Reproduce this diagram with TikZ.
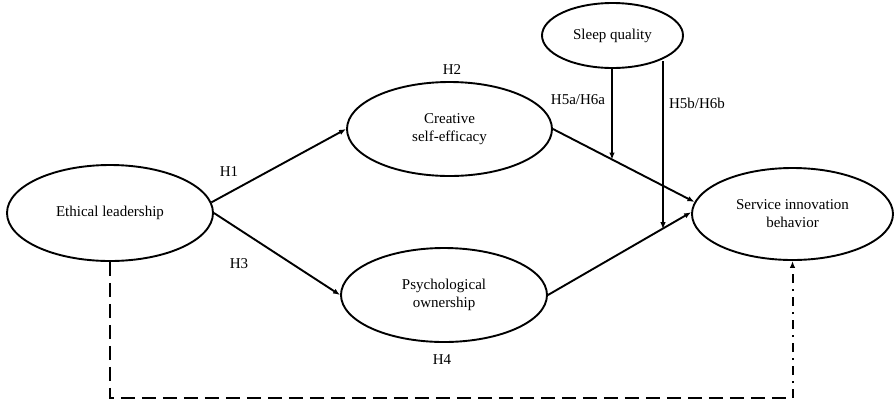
\documentclass[tikz,border=0pt]{standalone}
\usepackage{fontspec}
\setmainfont{Liberation Serif}
\usetikzlibrary{shapes.geometric,arrows.meta,calc}
\begin{document}
\begin{tikzpicture}[x=1pt,y=-1pt,
  latent/.style={draw,ellipse,line width=1.9pt,inner sep=0pt,align=center,font=\fontsize{15}{18}\selectfont},
  arr/.style={line width=1.9pt,-{Latex[length=7pt,width=5.5pt]}},
  lbl/.style={font=\fontsize{15}{18}\selectfont,inner sep=0pt},
  dashline/.style={line width=2.2pt,dash pattern=on 14pt off 7pt},
  dashdot/.style={line width=2pt,dash pattern=on 9pt off 6pt on 2pt off 6pt,-{Latex[length=7pt,width=5.5pt]}}]
\useasboundingbox (0,0) rectangle (894,400);
\node[latent,minimum width=206pt,minimum height=96pt] (el) at (110,213) {Ethical leadership};
\node[latent,minimum width=205pt,minimum height=94pt] (cse) at (449.5,129) {Creative\\self-efficacy};
\node[latent,minimum width=206pt,minimum height=94pt] (po) at (444,295) {Psychological\\ownership};
\node[latent,minimum width=201pt,minimum height=92pt] (sib) at (792.5,214) {Service innovation\\behavior};
\node[latent,minimum width=141pt,minimum height=65pt] (sq) at (612.5,35.5) {Sleep quality};

\draw[arr] (el.6) -- (cse.west);
\draw[arr] (el.east) -- (po.west);
\draw[arr] (cse.east) -- (sib.173);
\draw[arr] (po.east) -- (sib.179);

\coordinate (m1) at ($(cse.east)!0.42!(sib.173)$);
\coordinate (m2) at ($(po.east)!0.795!(sib.179)$);
\coordinate (s1) at (612,67);
\draw[arr] (s1) -- (s1 |- m1);
\coordinate (s2) at (663,61);
\draw[arr] (s2) -- (s2 |- m2);

\coordinate (c1) at (el.south |- 0,398);
\coordinate (c2) at (sib.south |- 0,398);
\draw[dashline] (el.south) -- (c1) -- (c2);
\draw[dashdot] (c2) -- (sib.south);

\node[lbl] (h1) at (229,172) {H1};
\node[lbl] (h2) at (452,70) {H2};
\node[lbl] (h3) at (239,264) {H3};
\node[lbl] (h4) at (442,360) {H4};
\node[lbl] (h5a) at (578,100) {H5a/H6a};
\node[lbl] (h5b) at (697,103) {H5b/H6b};
\end{tikzpicture}
\end{document}
